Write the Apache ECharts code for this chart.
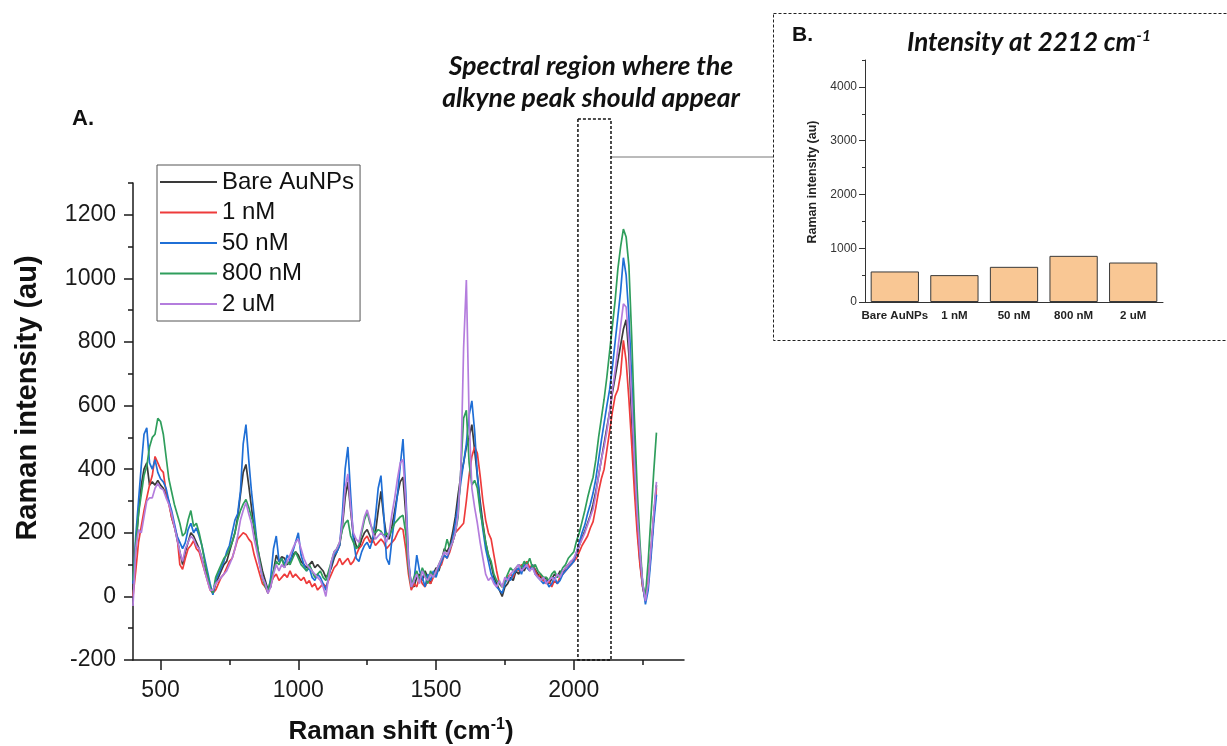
<!DOCTYPE html>
<html><head><meta charset="utf-8">
<script src="https://cdn.jsdelivr.net/npm/echarts@6/dist/echarts.min.js"></script>
<style>html,body{margin:0;padding:0;background:#fff}#c{width:1227px;height:746px}</style>
</head><body><div id="c"></div>
<script>
// ---------- DATA ----------
const shift = [
400,410,420,430,440,450,460,470,480,490,
500,510,520,530,540,550,560,570,580,590,
600,610,620,630,640,650,660,670,680,690,
700,710,720,730,740,750,760,770,780,790,
800,810,820,830,840,850,860,870,880,890,
900,910,920,930,940,950,960,970,980,990,
1000,1010,1020,1030,1040,1050,1060,1070,1080,1090,
1100,1110,1120,1130,1140,1150,1160,1170,1180,1190,
1200,1210,1220,1230,1240,1250,1260,1270,1280,1290,
1300,1310,1320,1330,1340,1350,1360,1370,1380,1390,
1400,1410,1420,1430,1440,1450,1460,1470,1480,1490,
1500,1510,1520,1530,1540,1550,1560,1570,1580,1590,
1600,1610,1620,1630,1640,1650,1660,1670,1680,1690,
1700,1710,1720,1730,1740,1750,1760,1770,1780,1790,
1800,1810,1820,1830,1840,1850,1860,1870,1880,1890,
1900,1910,1920,1930,1940,1950,1960,1970,1980,1990,
2000,2010,2020,2030,2040,2050,2060,2070,2080,2090,
2100,2110,2120,2130,2140,2150,2160,2170,2180,2190,
2200,2210,2220,2230,2240,2250,2260,2270,2280,2290,
2300];

const bareAuNPs = [
20,150,260,350,400,420,350,360,350,365,
350,340,320,300,250,220,180,140,100,140,
170,200,190,170,150,120,90,60,30,10,
40,60,80,100,110,140,170,200,250,320,
390,415,350,280,210,160,120,80,50,20,
30,80,130,110,125,120,100,110,130,140,
130,110,100,90,100,110,90,100,90,80,
60,70,90,120,140,160,220,310,360,270,
190,160,150,180,200,210,190,170,200,270,
330,250,190,180,220,270,320,360,375,260,
100,40,30,60,70,50,80,60,40,70,
90,80,110,150,140,160,200,250,320,380,
420,470,500,540,460,380,300,230,170,130,
100,60,40,20,0,30,40,60,50,80,
70,90,80,100,90,95,85,70,60,50,
60,40,55,70,60,80,70,90,100,110,
115,135,160,185,205,230,255,290,330,380,
430,480,530,580,640,690,740,790,840,870,
760,560,380,230,110,30,-15,40,140,250,
350];

const nM1 = [
0,80,170,220,270,310,350,380,440,420,
400,390,330,290,250,220,190,100,85,120,
150,160,175,150,140,110,80,50,20,10,
20,40,60,70,90,110,120,150,180,190,
200,195,180,170,130,100,70,40,30,10,
40,60,70,50,60,70,60,80,60,70,
60,50,60,40,50,30,40,20,30,40,
30,50,70,90,100,120,100,110,120,100,
110,130,150,160,180,190,170,180,160,170,
180,170,150,160,170,180,200,215,210,150,
70,20,40,30,60,40,30,50,40,60,
70,90,100,130,120,140,170,200,210,220,
230,300,380,440,470,450,380,300,240,200,
180,130,80,40,30,50,60,70,60,90,
80,100,90,110,90,100,80,60,70,50,
40,50,30,50,40,60,70,80,90,100,
110,120,140,160,175,190,215,235,280,330,
370,400,460,520,580,630,650,700,805,740,
620,480,330,200,100,30,-10,50,140,250,
340];

const nM50 = [
40,190,300,410,510,530,420,400,430,390,
370,360,340,300,270,230,190,170,150,170,
210,230,200,215,190,160,120,80,40,5,
50,70,90,110,140,160,200,240,260,330,
480,540,430,330,250,170,100,60,40,10,
60,150,190,110,120,100,130,110,140,170,
200,130,100,80,90,60,50,70,60,40,
20,60,100,130,140,160,260,400,470,320,
180,120,110,140,160,170,150,180,250,340,
380,260,120,100,180,250,320,410,495,330,
120,30,50,130,80,60,30,70,50,80,
60,90,110,130,120,150,180,230,290,360,
420,480,570,615,520,380,280,210,150,110,
70,50,30,20,10,40,60,50,70,80,
90,70,100,90,80,100,70,60,50,40,
50,30,40,60,40,50,70,80,90,100,
110,140,170,200,225,260,290,325,370,430,
490,545,600,650,720,800,880,960,1065,1010,
880,690,480,290,140,40,-25,20,120,230,
320];

const nM800 = [
50,170,260,320,380,410,470,500,510,560,
550,510,440,370,330,290,260,230,190,200,
240,270,220,230,200,160,110,70,30,10,
60,80,100,120,130,150,170,200,240,270,
290,305,280,250,220,170,110,60,30,20,
50,80,110,100,120,90,110,100,120,140,
120,100,90,80,100,80,60,70,80,60,
50,80,110,140,150,170,210,230,240,190,
170,150,160,200,240,265,230,210,200,210,
205,190,200,190,210,230,240,250,255,200,
90,30,60,80,50,90,70,40,80,60,
80,100,120,140,180,150,170,200,250,400,
560,585,420,350,365,340,270,220,170,130,
110,70,50,40,30,50,70,90,80,90,
100,90,110,100,120,90,100,80,70,60,
60,50,70,80,60,70,90,100,120,130,
140,175,200,235,270,310,345,375,430,500,
560,620,690,770,850,930,1030,1100,1155,1130,
1040,820,560,340,170,40,0,110,250,390,
515];

const uM2 = [
-30,150,210,200,250,300,310,310,340,355,
340,335,310,290,260,220,180,140,110,150,
170,190,180,160,150,120,80,50,20,20,
40,50,60,70,80,100,120,150,190,240,
270,295,260,230,180,140,100,60,40,10,
30,70,100,80,100,90,110,130,150,170,
180,150,120,100,90,80,70,60,50,30,
0,60,110,140,150,170,230,340,385,280,
200,180,170,210,250,272,240,200,180,190,
200,190,170,200,260,310,370,420,430,300,
110,30,50,70,40,80,60,50,70,60,
80,100,120,140,130,150,170,200,260,400,
780,995,560,340,280,230,170,120,70,50,
60,40,30,50,30,60,50,70,80,90,
100,80,90,100,80,90,70,60,50,60,
40,50,60,50,70,60,80,90,100,110,
120,140,160,180,200,225,250,275,320,380,
430,470,520,580,650,710,780,850,920,910,
800,620,420,260,140,40,-15,40,150,260,
360];

const seriesNames = ['Bare AuNPs', '1 nM', '50 nM', '800 nM', '2 uM'];
const barCategories = ['Bare AuNPs', '1 nM', '50 nM', '800 nM', '2 uM'];
const barValues = [568, 500, 654, 858, 734];

const xLabelValues = [500, 1000, 1500, 2000];
const xMinorTicks = [750, 1250, 1750, 2250];
const yLabelValues = [-200, 0, 200, 400, 600, 800, 1000, 1200];
const yMinorTicks = [-100, 100, 300, 500, 700, 900, 1100, 1300];
const barYLabelValues = [0, 1000, 2000, 3000, 4000];
const barYMinorTicks = [500, 1500, 2500, 3500, 4500];
const regionStart = 2015, regionEnd = 2135;

// ---------- CHART ----------
const FONT = '"Liberation Sans", Arial, sans-serif';
const CAL = 'Lato, "Open Sans", sans-serif';
const AX = '#1a1a1a';
const colors = ['#3a3a3a', '#ee3b3b', '#1f6fd6', '#2f9e5c', '#b47ddd'];
const spectra = [bareAuNPs, nM1, nM50, nM800, uM2];
const plain = v => String(v);

const chart = echarts.init(document.getElementById('c'));

const lineSeries = spectra.map((arr, i) => ({
  name: seriesNames[i],
  type: 'line',
  xAxisIndex: 0, yAxisIndex: 0,
  data: shift.map((x, j) => [x, arr[j]]),
  showSymbol: false,
  symbol: 'none',
  lineStyle: { width: 1.7, color: colors[i] },
  itemStyle: { color: colors[i] },
  z: 2 + i
}));

const option = {
  animation: false,
  backgroundColor: '#ffffff',
  grid: [
    { left: 133, top: 183, width: 551, height: 477, outerBoundsMode: 'none' },
    { left: 865, top: 60, width: 298, height: 242, outerBoundsMode: 'none' }
  ],
  legend: {
    data: seriesNames,
    orient: 'vertical',
    left: 157, top: 165,
    padding: [5, 6, 5, 3],
    itemWidth: 57, itemHeight: 2,
    itemGap: 6.5,
    icon: 'rect',
    borderColor: '#555', borderWidth: 1,
    textStyle: { fontSize: 24, fontFamily: FONT, color: '#111', lineHeight: 24 },
    selectedMode: false
  },
  xAxis: [
    { type: 'value', gridIndex: 0, position: 'bottom', min: 400, max: 2400,
      axisLine: { onZero: false, lineStyle: { color: AX, width: 1.5 } },
      axisTick: { customValues: xLabelValues, length: 10, lineStyle: { color: AX, width: 1.5 } },
      axisLabel: { customValues: xLabelValues, formatter: plain, fontSize: 23, color: AX, fontFamily: FONT, margin: 19 },
      splitLine: { show: false } },
    { type: 'value', gridIndex: 0, position: 'bottom', offset: 0, min: 400, max: 2400,
      axisLine: { show: false, onZero: false },
      axisTick: { customValues: xMinorTicks, length: 5, lineStyle: { color: AX, width: 1.5 } },
      axisLabel: { show: false }, splitLine: { show: false } },
    { type: 'category', gridIndex: 1, position: 'bottom', data: barCategories,
      axisLine: { lineStyle: { color: '#333', width: 1 } },
      axisTick: { alignWithLabel: true, length: 4, lineStyle: { color: '#333' } },
      axisLabel: { interval: 0, fontSize: 11.5, fontWeight: 'bold', color: '#222', fontFamily: FONT, margin: 8 } }
  ],
  yAxis: [
    { type: 'value', gridIndex: 0, position: 'left', min: -200, max: 1300,
      axisLine: { show: true, onZero: false, lineStyle: { color: AX, width: 1.5 } },
      axisTick: { show: true, customValues: yLabelValues, length: 9, lineStyle: { color: AX, width: 1.5 } },
      axisLabel: { customValues: yLabelValues, formatter: plain, fontSize: 23, color: AX, fontFamily: FONT, margin: 17 },
      splitLine: { show: false } },
    { type: 'value', gridIndex: 0, position: 'left', offset: 0, min: -200, max: 1300,
      axisLine: { show: false, onZero: false },
      axisTick: { show: true, customValues: yMinorTicks, length: 5, lineStyle: { color: AX, width: 1.5 } },
      axisLabel: { show: false }, splitLine: { show: false } },
    { type: 'value', gridIndex: 1, position: 'left', min: 0, max: 4500,
      axisLine: { show: true, lineStyle: { color: '#333', width: 1 } },
      axisTick: { show: true, customValues: barYLabelValues, length: 6, lineStyle: { color: '#333' } },
      axisLabel: { customValues: barYLabelValues, formatter: plain, fontSize: 12, color: '#333', fontFamily: FONT, margin: 8 },
      splitLine: { show: false } },
    { type: 'value', gridIndex: 1, position: 'left', offset: 0, min: 0, max: 4500,
      axisLine: { show: false },
      axisTick: { show: true, customValues: barYMinorTicks, length: 3, lineStyle: { color: '#333' } },
      axisLabel: { show: false }, splitLine: { show: false } }
  ],
  series: lineSeries.concat([{
    type: 'bar', xAxisIndex: 2, yAxisIndex: 2,
    data: barValues,
    barCategoryGap: '19%',
    itemStyle: { color: '#f9c794', borderColor: '#3a3a3a', borderWidth: 1 },
    z: 2
  }])
};
chart.setOption(option);

const x0 = chart.convertToPixel({ xAxisIndex: 0 }, regionStart);
const x1 = chart.convertToPixel({ xAxisIndex: 0 }, regionEnd);
const yb = chart.convertToPixel({ yAxisIndex: 0 }, -200);

chart.setOption({
  graphic: [
    { type: 'text', left: 72, top: 108, style: { text: 'A.', font: 'bold 22px ' + FONT, fill: '#111' } },
    { type: 'text', x: 591, y: 50, style: { text: 'Spectral region where the\nalkyne peak should appear',
        font: 'italic bold 26.5px ' + CAL, fill: '#111', align: 'center', verticalAlign: 'top', lineHeight: 32 } },
    { type: 'rect', shape: { x: x0, y: 119, width: x1 - x0, height: yb - 119 },
      style: { fill: 'none', stroke: '#111', lineWidth: 1.5, lineDash: [3, 2] }, z: 10 },
    { type: 'line', shape: { x1: x1, y1: 157, x2: 773, y2: 157 }, style: { stroke: '#777', lineWidth: 1 } },
    { type: 'rect', shape: { x: 773.5, y: 13.5, width: 480, height: 327 },
      style: { fill: 'none', stroke: '#222', lineWidth: 1, lineDash: [3, 2] } },
    { type: 'text', left: 792, top: 25, style: { text: 'B.', font: 'bold 21px ' + FONT, fill: '#111' } },
    { type: 'text', x: 1029, y: 43, style: {
        text: '{a|Intensity at 2212 cm}{s|-1}', align: 'center', verticalAlign: 'middle',
        rich: { a: { fontFamily: CAL, fontStyle: 'italic', fontWeight: 'bold', fontSize: 26, lineHeight: 30, fill: '#111' },
                s: { fontFamily: CAL, fontStyle: 'italic', fontWeight: 'bold', fontSize: 16, lineHeight: 17, verticalAlign: 'top', fill: '#111' } } } },
    { type: 'text', x: 813, y: 182, rotation: Math.PI / 2, style: {
        text: 'Raman intensity (au)', font: 'bold 12.5px ' + FONT, fill: '#222', align: 'center', verticalAlign: 'middle' } },
    { type: 'text', x: 28, y: 398, rotation: Math.PI / 2, style: {
        text: 'Raman intensity (au)', font: 'bold 29px ' + FONT, fill: '#111', align: 'center', verticalAlign: 'middle' } },
    { type: 'text', x: 401, y: 732, style: {
        text: '{a|Raman shift (cm}{s|-1}{a|)}', align: 'center', verticalAlign: 'middle',
        rich: { a: { fontFamily: FONT, fontWeight: 'bold', fontSize: 26, lineHeight: 30, fill: '#111' },
                s: { fontFamily: FONT, fontWeight: 'bold', fontSize: 16, lineHeight: 18, verticalAlign: 'top', fill: '#111' } } } }
  ]
});
</script>
</body></html>
